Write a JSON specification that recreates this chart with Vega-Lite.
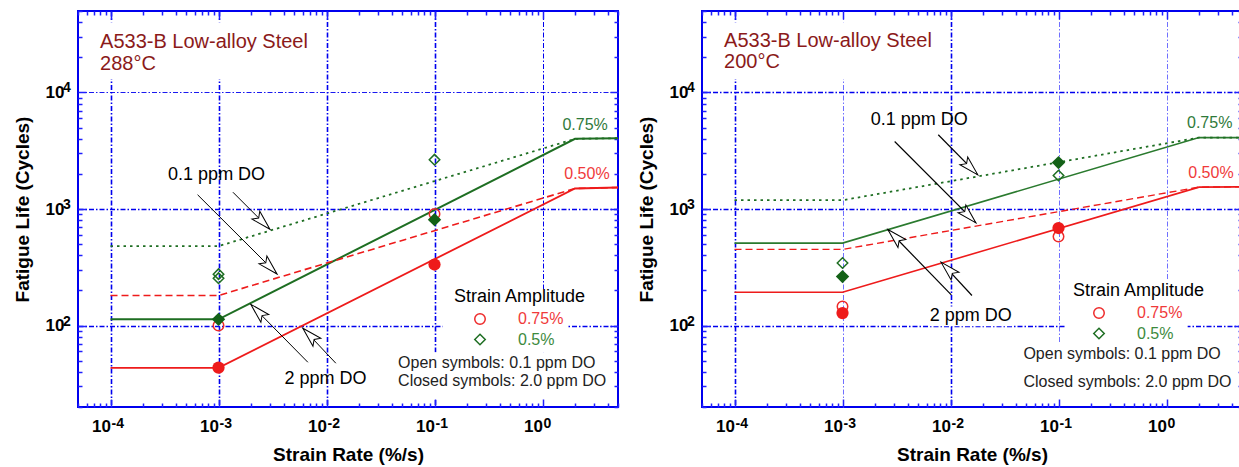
{
 "$schema": "https://vega.github.io/schema/vega-lite/v6.json",
 "background": "white",
 "padding": {"left": 12, "top": 1, "right": 0, "bottom": 0},
 "spacing": 13,
 "config": {"view": {"stroke": "#0000ee", "strokeWidth": 2}, "font": "Liberation Sans"},
 "datasets": {
  "lines": [
   {"panel":"288","series":"g2","x":0.0001,"y":113},{"panel":"288","series":"g2","x":0.001,"y":113},{"panel":"288","series":"g2","x":2,"y":4000},{"panel":"288","series":"g2","x":5,"y":4050},
   {"panel":"288","series":"g01","x":0.0001,"y":480},{"panel":"288","series":"g01","x":0.001,"y":480},{"panel":"288","series":"g01","x":2,"y":4000},{"panel":"288","series":"g01","x":5,"y":4050},
   {"panel":"288","series":"r2","x":0.0001,"y":43.3},{"panel":"288","series":"r2","x":0.001,"y":43.3},{"panel":"288","series":"r2","x":2,"y":1500},{"panel":"288","series":"r2","x":5,"y":1530},
   {"panel":"288","series":"r01","x":0.0001,"y":181},{"panel":"288","series":"r01","x":0.001,"y":181},{"panel":"288","series":"r01","x":2,"y":1500},{"panel":"288","series":"r01","x":5,"y":1530},
   {"panel":"200","series":"g2","x":0.0001,"y":510},{"panel":"200","series":"g2","x":0.001,"y":510},{"panel":"200","series":"g2","x":2,"y":4100},{"panel":"200","series":"g2","x":5,"y":4100},
   {"panel":"200","series":"g01","x":0.0001,"y":1190},{"panel":"200","series":"g01","x":0.001,"y":1190},{"panel":"200","series":"g01","x":2,"y":4100},{"panel":"200","series":"g01","x":5,"y":4100},
   {"panel":"200","series":"r2","x":0.0001,"y":193},{"panel":"200","series":"r2","x":0.001,"y":193},{"panel":"200","series":"r2","x":2,"y":1540},{"panel":"200","series":"r2","x":5,"y":1550},
   {"panel":"200","series":"r01","x":0.0001,"y":450},{"panel":"200","series":"r01","x":0.001,"y":450},{"panel":"200","series":"r01","x":2,"y":1540},{"panel":"200","series":"r01","x":5,"y":1550}
  ],
  "pts": [
   {"panel":"288","x":0.001,"y":276,"amp":"0.5%","oxygen":"0.1"},
   {"panel":"288","x":0.001,"y":255,"amp":"0.5%","oxygen":"0.1"},
   {"panel":"288","x":0.001,"y":113,"amp":"0.5%","oxygen":"2.0"},
   {"panel":"288","x":0.001,"y":100,"amp":"0.75%","oxygen":"0.1"},
   {"panel":"288","x":0.001,"y":43.5,"amp":"0.75%","oxygen":"2.0"},
   {"panel":"288","x":0.1,"y":2650,"amp":"0.5%","oxygen":"0.1"},
   {"panel":"288","x":0.1,"y":810,"amp":"0.5%","oxygen":"2.0"},
   {"panel":"288","x":0.1,"y":905,"amp":"0.75%","oxygen":"0.1"},
   {"panel":"288","x":0.1,"y":334,"amp":"0.75%","oxygen":"2.0"},
   {"panel":"200","x":0.001,"y":344,"amp":"0.5%","oxygen":"0.1"},
   {"panel":"200","x":0.001,"y":263,"amp":"0.5%","oxygen":"2.0"},
   {"panel":"200","x":0.001,"y":146,"amp":"0.75%","oxygen":"0.1"},
   {"panel":"200","x":0.001,"y":128,"amp":"0.75%","oxygen":"2.0"},
   {"panel":"200","x":0.1,"y":2500,"amp":"0.5%","oxygen":"2.0"},
   {"panel":"200","x":0.1,"y":1936,"amp":"0.5%","oxygen":"0.1"},
   {"panel":"200","x":0.1,"y":687,"amp":"0.75%","oxygen":"2.0"},
   {"panel":"200","x":0.1,"y":580,"amp":"0.75%","oxygen":"0.1"}
  ],
  "arrows": [
   {"panel":"288","group":"low","x":0.00064,"y":1325,"x2":0.00348,"y2":277},
   {"panel":"288","group":"low","x":0.00136,"y":1393,"x2":0.00299,"y2":671},
   {"panel":"288","group":"high","x":0.00672,"y":48.4,"x2":0.00199,"y2":152},
   {"panel":"288","group":"high","x":0.0122,"y":47.5,"x2":0.00604,"y2":94.8},
   {"panel":"200","group":"low","x":0.00304,"y":3794,"x2":0.0172,"y2":760},
   {"panel":"200","group":"low","x":0.0077,"y":4335,"x2":0.0179,"y2":1963},
   {"panel":"200","group":"high","x":0.01017,"y":183,"x2":0.00263,"y2":667},
   {"panel":"200","group":"high","x":0.0158,"y":181,"x2":0.00817,"y2":350}
  ],
  "boxes": [
   {"panel":"288","x":0.000058,"x2":0.0081,"y":40000,"y2":13000},
   {"panel":"288","x":0.119,"x2":1.71,"y":205,"y2":59},
   {"panel":"288","x":0.0438,"x2":3.7,"y":59,"y2":23.8},
   {"panel":"200","x":0.000058,"x2":0.0081,"y":40000,"y2":13000},
   {"panel":"200","x":0.0062,"x2":0.037,"y":146,"y2":98.6},
   {"panel":"200","x":0.115,"x2":1.57,"y":250,"y2":72},
   {"panel":"200","x":0.048,"x2":4.0,"y":72,"y2":23.8}
  ],
  "expo": [
   {"kind":"xexp","x":0.0001,"y":20,"text":"-4"},{"kind":"xexp","x":0.001,"y":20,"text":"-3"},{"kind":"xexp","x":0.01,"y":20,"text":"-2"},{"kind":"xexp","x":0.1,"y":20,"text":"-1"},{"kind":"xexp","x":1,"y":20,"text":"0"},
   {"kind":"yexp","x":0.00005,"y":100,"text":"2"},{"kind":"yexp","x":0.00005,"y":1000,"text":"3"},{"kind":"yexp","x":0.00005,"y":10000,"text":"4"}
  ],
  "notes": [
   {"panel":"288","kind":"title","text":"A533-B Low-alloy Steel","x":0.00008,"y":27000},
   {"panel":"288","kind":"title","text":"288°C","x":0.00008,"y":17400},
   {"panel":"288","kind":"do","text":"0.1 ppm DO","x":0.00096,"y":1940},
   {"panel":"288","kind":"do","text":"2 ppm DO","x":0.0098,"y":34.8},
   {"panel":"288","kind":"g","text":"0.75%","x":2.48,"y":5280},
   {"panel":"288","kind":"r","text":"0.50%","x":2.58,"y":1980},
   {"panel":"288","kind":"note","text":"Open symbols: 0.1 ppm DO","x":0.046,"y":47.8},
   {"panel":"288","kind":"note","text":"Closed symbols: 2.0 ppm DO","x":0.046,"y":33.3},
   {"panel":"200","kind":"title","text":"A533-B Low-alloy Steel","x":0.00008,"y":27900},
   {"panel":"200","kind":"title","text":"200°C","x":0.00008,"y":18200},
   {"panel":"200","kind":"do","text":"0.1 ppm DO","x":0.00513,"y":5860},
   {"panel":"200","kind":"do","text":"2 ppm DO","x":0.0154,"y":120},
   {"panel":"200","kind":"g","text":"0.75%","x":2.51,"y":5460},
   {"panel":"200","kind":"r","text":"0.50%","x":2.58,"y":2043},
   {"panel":"200","kind":"note","text":"Open symbols: 0.1 ppm DO","x":0.0473,"y":57.2},
   {"panel":"200","kind":"note","text":"Closed symbols: 2.0 ppm DO","x":0.0473,"y":33}
  ]
 },
 "resolve": {"scale": {"color": "independent", "shape": "independent"}, "legend": {"color": "independent", "shape": "independent"}},
 "hconcat": [
  {
   "width": 540, "height": 396,
   "encoding": {
    "x": {"field": "x", "type": "quantitative", "scale": {"type": "log", "domain": [0.00005, 5], "nice": false}, "axis": null},
    "y": {"field": "y", "type": "quantitative", "scale": {"type": "log", "domain": [20, 50000], "nice": false}, "axis": null}
   },
   "resolve": {"axis": {"x": "independent", "y": "independent"}},
   "layer": [
    {"data": {"name": "boxes"}, "transform": [{"filter": "datum.panel === '288'"}],
     "mark": {"type": "rect", "color": "white", "opacity": 1, "strokeWidth": 0},
     "encoding": {
      "x": {"field": "x", "type": "quantitative", "scale": {"type": "log", "domain": [0.00005, 5], "nice": false},
       "axis": {"orient": "bottom", "values": [0.00005,0.00006,0.00007,0.00008,0.00009,0.0001,0.0002,0.0003,0.0004,0.0005,0.0006,0.0007,0.0008,0.0009,0.001,0.002,0.003,0.004,0.005,0.006,0.007,0.008,0.009,0.01,0.02,0.03,0.04,0.05,0.06,0.07,0.08,0.09,0.1,0.2,0.3,0.4,0.5,0.6,0.7,0.8,0.9,1,2,3,4,5],
        "labelExpr": "indexof([0.0001,0.001,0.01,0.1,1], datum.value) >= 0 ? '10' : ''",
        "labelOverlap": false, "labelFlush": false, "labelBound": false, "labelAlign": "right",
        "labelFont": "Liberation Sans", "labelFontWeight": "bold", "labelFontSize": 17, "labelColor": "black", "labelPadding": 19,
        "tickSize": {"condition": {"test": "indexof([0.0001,0.001,0.01,0.1,1], datum.value) >= 0", "value": -8}, "value": -4},
        "tickColor": "#2020ff", "tickWidth": 1.5, "domain": false,
        "grid": true, "gridColor": "#0000ee", "gridDash": [5, 2, 1.5, 2],
        "gridWidth": {"condition": {"test": "datum.value === 1", "value": 1}, "value": 1.6},
        "gridOpacity": {"condition": {"test": "indexof([0.0001,0.001,0.01,0.1,1], datum.value) >= 0", "value": 1}, "value": 0},
        "title": "Strain Rate (%/s)", "titleFont": "Liberation Sans", "titleFontSize": 19, "titleFontWeight": "bold", "titleColor": "black", "titlePadding": 7}},
      "y": {"field": "y", "type": "quantitative", "scale": {"type": "log", "domain": [20, 50000], "nice": false},
       "axis": {"orient": "left", "values": [20,30,40,50,60,70,80,90,100,200,300,400,500,600,700,800,900,1000,2000,3000,4000,5000,6000,7000,8000,9000,10000,20000,30000,40000,50000],
        "labelExpr": "indexof([100,1000,10000], datum.value) >= 0 ? '10' : ''",
        "labelOverlap": false, "labelFlush": false, "labelBound": false,
        "labelFont": "Liberation Sans", "labelFontWeight": "bold", "labelFontSize": 17, "labelColor": "black", "labelPadding": 22,
        "tickSize": {"condition": {"test": "indexof([100,1000,10000], datum.value) >= 0", "value": -8}, "value": -4},
        "tickColor": "#2020ff", "tickWidth": 1.5, "domain": false,
        "grid": true, "gridColor": "#0000ee", "gridDash": [5, 2, 1.5, 2],
        "gridWidth": {"condition": {"test": "datum.value === 10000", "value": 0.9}, "value": 1.6},
        "gridOpacity": {"condition": {"test": "indexof([100,1000,10000], datum.value) >= 0", "value": 1}, "value": 0},
        "title": "Fatigue Life (Cycles)", "titleFont": "Liberation Sans", "titleFontSize": 19, "titleFontWeight": "bold", "titleColor": "black", "titlePadding": 13}},
      "x2": {"field": "x2"}, "y2": {"field": "y2"}
     }},
    {"data": {"name": "lines"}, "transform": [{"filter": "datum.panel === '288' && datum.series === 'g2'"}],
     "mark": {"type": "line", "color": "#1e6e22", "strokeWidth": 2}},
    {"data": {"name": "lines"}, "transform": [{"filter": "datum.panel === '288' && datum.series === 'g01'"}],
     "mark": {"type": "line", "color": "#1e6e22", "strokeWidth": 1.8, "strokeDash": [2.5, 4]}},
    {"data": {"name": "lines"}, "transform": [{"filter": "datum.panel === '288' && datum.series === 'r2'"}],
     "mark": {"type": "line", "color": "#ee1b1b", "strokeWidth": 1.8}},
    {"data": {"name": "lines"}, "transform": [{"filter": "datum.panel === '288' && datum.series === 'r01'"}],
     "mark": {"type": "line", "color": "#ee1b1b", "strokeWidth": 1.6, "strokeDash": [7, 4]}},
    {"data": {"name": "arrows"}, "transform": [{"filter": "datum.panel === '288'"}],
     "mark": {"type": "rule", "color": "black", "strokeWidth": 1},
     "encoding": {
      "x": {"field": "x", "type": "quantitative", "scale": {"type": "log", "domain": [0.00005, 5], "nice": false},
       "axis": {"orient": "top", "values": [0.00005,0.00006,0.00007,0.00008,0.00009,0.0001,0.0002,0.0003,0.0004,0.0005,0.0006,0.0007,0.0008,0.0009,0.001,0.002,0.003,0.004,0.005,0.006,0.007,0.008,0.009,0.01,0.02,0.03,0.04,0.05,0.06,0.07,0.08,0.09,0.1,0.2,0.3,0.4,0.5,0.6,0.7,0.8,0.9,1,2,3,4,5],
        "labels": false, "title": null, "grid": false, "domain": false,
        "tickSize": {"condition": {"test": "indexof([0.0001,0.001,0.01,0.1,1], datum.value) >= 0", "value": -8}, "value": -4},
        "tickColor": "#2020ff", "tickWidth": 1.5}},
      "y": {"field": "y", "type": "quantitative", "scale": {"type": "log", "domain": [20, 50000], "nice": false},
       "axis": {"orient": "right", "values": [20,30,40,50,60,70,80,90,100,200,300,400,500,600,700,800,900,1000,2000,3000,4000,5000,6000,7000,8000,9000,10000,20000,30000,40000,50000],
        "labels": false, "title": null, "grid": false, "domain": false,
        "tickSize": {"condition": {"test": "indexof([100,1000,10000], datum.value) >= 0", "value": -8}, "value": -4},
        "tickColor": "#2020ff", "tickWidth": 1.5}},
      "x2": {"field": "x2"}, "y2": {"field": "y2"}
     }},
    {"data": {"name": "arrows"}, "transform": [{"filter": "datum.panel === '288' && datum.group === 'low'"}],
     "mark": {"type": "point", "shape": "M0,0 L0.42,1.5 L0,1.2 L-0.42,1.5 Z", "angle": 135, "size": 700, "filled": true, "fill": "white", "stroke": "black", "strokeWidth": 1, "opacity": 1},
     "encoding": {
      "x": {"field": "x2", "type": "quantitative", "scale": {"type": "log", "domain": [0.00005, 5], "nice": false}, "axis": null},
      "y": {"field": "y2", "type": "quantitative", "scale": {"type": "log", "domain": [20, 50000], "nice": false}, "axis": null}}},
    {"data": {"name": "arrows"}, "transform": [{"filter": "datum.panel === '288' && datum.group === 'high'"}],
     "mark": {"type": "point", "shape": "M0,0 L0.42,1.5 L0,1.2 L-0.42,1.5 Z", "angle": 315, "size": 700, "filled": true, "fill": "white", "stroke": "black", "strokeWidth": 1, "opacity": 1},
     "encoding": {
      "x": {"field": "x2", "type": "quantitative", "scale": {"type": "log", "domain": [0.00005, 5], "nice": false}, "axis": null},
      "y": {"field": "y2", "type": "quantitative", "scale": {"type": "log", "domain": [20, 50000], "nice": false}, "axis": null}}},
    {"data": {"name": "pts"}, "transform": [{"filter": "datum.panel === '288' && datum.oxygen === '0.1'"}],
     "mark": {"type": "point", "filled": false, "size": 110, "strokeWidth": 1.5, "opacity": 1},
     "encoding": {
      "color": {"field": "amp", "type": "nominal", "scale": {"domain": ["0.75%", "0.5%"], "range": ["#ee2a2a", "#1e6e22"]},
       "legend": {"orient": "none", "legendX": 376, "legendY": 277, "title": "Strain Amplitude", "titleFont": "Liberation Sans", "titleFontSize": 18, "titleFontWeight": "normal", "titleColor": "black", "titlePadding": 5, "labelFont": "Liberation Sans", "labelFontSize": 16, "symbolSize": 110, "symbolStrokeWidth": 1.5, "symbolOffset": 18, "labelOffset": 30, "rowPadding": 2.5, "padding": 0,
        "labelColor": {"expr": "datum.label === '0.75%' ? '#f03a3a' : '#3d8a3d'"}}},
      "shape": {"field": "amp", "type": "nominal", "scale": {"domain": ["0.75%", "0.5%"], "range": ["circle", "diamond"]},
       "legend": {"orient": "none", "legendX": 376, "legendY": 277, "title": "Strain Amplitude", "titleFont": "Liberation Sans", "titleFontSize": 18, "titleFontWeight": "normal", "titleColor": "black", "titlePadding": 5, "labelFont": "Liberation Sans", "labelFontSize": 16, "symbolSize": 110, "symbolStrokeWidth": 1.5, "symbolOffset": 18, "labelOffset": 30, "rowPadding": 2.5, "padding": 0,
        "labelColor": {"expr": "datum.label === '0.75%' ? '#f03a3a' : '#3d8a3d'"}}}
     }},
    {"data": {"name": "pts"}, "transform": [{"filter": "datum.panel === '288' && datum.oxygen === '2.0' && datum.amp === '0.75%'"}],
     "mark": {"type": "point", "shape": "circle", "filled": true, "color": "#ee1b1b", "size": 150, "opacity": 1}},
    {"data": {"name": "pts"}, "transform": [{"filter": "datum.panel === '288' && datum.oxygen === '2.0' && datum.amp === '0.5%'"}],
     "mark": {"type": "point", "shape": "diamond", "filled": true, "color": "#136117", "size": 180, "opacity": 1}},
    {"data": {"name": "expo"}, "transform": [{"filter": "datum.kind === 'xexp'"}],
     "mark": {"type": "text", "clip": false, "align": "left", "baseline": "middle", "dx": 1, "dy": 17, "font": "Liberation Sans", "fontWeight": "bold", "fontSize": 14, "color": "black"},
     "encoding": {"text": {"field": "text"}}},
    {"data": {"name": "expo"}, "transform": [{"filter": "datum.kind === 'yexp'"}],
     "mark": {"type": "text", "clip": false, "align": "left", "baseline": "middle", "dx": -15, "dy": -4, "font": "Liberation Sans", "fontWeight": "bold", "fontSize": 14, "color": "black"},
     "encoding": {"text": {"field": "text"}}},
    {"data": {"name": "notes"}, "transform": [{"filter": "datum.panel === '288' && datum.kind === 'title'"}],
     "mark": {"type": "text", "align": "left", "baseline": "middle", "font": "Liberation Sans", "fontSize": 20, "color": "#8b1a1a"},
     "encoding": {"text": {"field": "text"}}},
    {"data": {"name": "notes"}, "transform": [{"filter": "datum.panel === '288' && datum.kind === 'do'"}],
     "mark": {"type": "text", "align": "center", "baseline": "middle", "font": "Liberation Sans", "fontSize": 18, "color": "black"},
     "encoding": {"text": {"field": "text"}}},
    {"data": {"name": "notes"}, "transform": [{"filter": "datum.panel === '288' && datum.kind === 'g'"}],
     "mark": {"type": "text", "align": "center", "baseline": "middle", "font": "Liberation Sans", "fontSize": 16, "color": "#2f7a3a"},
     "encoding": {"text": {"field": "text"}}},
    {"data": {"name": "notes"}, "transform": [{"filter": "datum.panel === '288' && datum.kind === 'r'"}],
     "mark": {"type": "text", "align": "center", "baseline": "middle", "font": "Liberation Sans", "fontSize": 16, "color": "#f03a3a"},
     "encoding": {"text": {"field": "text"}}},
    {"data": {"name": "notes"}, "transform": [{"filter": "datum.panel === '288' && datum.kind === 'note'"}],
     "mark": {"type": "text", "align": "left", "baseline": "middle", "font": "Liberation Sans", "fontSize": 16, "color": "#222222"},
     "encoding": {"text": {"field": "text"}}}
   ]
  },
  {
   "width": 540, "height": 396,
   "encoding": {
    "x": {"field": "x", "type": "quantitative", "scale": {"type": "log", "domain": [0.00005, 5], "nice": false}, "axis": null},
    "y": {"field": "y", "type": "quantitative", "scale": {"type": "log", "domain": [20, 50000], "nice": false}, "axis": null}
   },
   "resolve": {"axis": {"x": "independent", "y": "independent"}},
   "layer": [
    {"data": {"name": "boxes"}, "transform": [{"filter": "datum.panel === '200'"}],
     "mark": {"type": "rect", "color": "white", "opacity": 1, "strokeWidth": 0},
     "encoding": {
      "x": {"field": "x", "type": "quantitative", "scale": {"type": "log", "domain": [0.00005, 5], "nice": false},
       "axis": {"orient": "bottom", "values": [0.00005,0.00006,0.00007,0.00008,0.00009,0.0001,0.0002,0.0003,0.0004,0.0005,0.0006,0.0007,0.0008,0.0009,0.001,0.002,0.003,0.004,0.005,0.006,0.007,0.008,0.009,0.01,0.02,0.03,0.04,0.05,0.06,0.07,0.08,0.09,0.1,0.2,0.3,0.4,0.5,0.6,0.7,0.8,0.9,1,2,3,4,5],
        "labelExpr": "indexof([0.0001,0.001,0.01,0.1,1], datum.value) >= 0 ? '10' : ''",
        "labelOverlap": false, "labelFlush": false, "labelBound": false, "labelAlign": "right",
        "labelFont": "Liberation Sans", "labelFontWeight": "bold", "labelFontSize": 17, "labelColor": "black", "labelPadding": 19,
        "tickSize": {"condition": {"test": "indexof([0.0001,0.001,0.01,0.1,1], datum.value) >= 0", "value": -8}, "value": -4},
        "tickColor": "#2020ff", "tickWidth": 1.5, "domain": false,
        "grid": true, "gridDash": [5, 2, 1.5, 2],
        "gridColor": {"condition": {"test": "datum.value === 0.0001 || datum.value === 0.01", "value": "#0000ee"}, "value": "#7070ff"},
        "gridWidth": {"condition": {"test": "datum.value === 0.0001 || datum.value === 0.01", "value": 1.6}, "value": 1},
        "gridOpacity": {"condition": {"test": "indexof([0.0001,0.001,0.01,0.1,1], datum.value) >= 0", "value": 1}, "value": 0},
        "title": "Strain Rate (%/s)", "titleFont": "Liberation Sans", "titleFontSize": 19, "titleFontWeight": "bold", "titleColor": "black", "titlePadding": 7}},
      "y": {"field": "y", "type": "quantitative", "scale": {"type": "log", "domain": [20, 50000], "nice": false},
       "axis": {"orient": "left", "values": [20,30,40,50,60,70,80,90,100,200,300,400,500,600,700,800,900,1000,2000,3000,4000,5000,6000,7000,8000,9000,10000,20000,30000,40000,50000],
        "labelExpr": "indexof([100,1000,10000], datum.value) >= 0 ? '10' : ''",
        "labelOverlap": false, "labelFlush": false, "labelBound": false,
        "labelFont": "Liberation Sans", "labelFontWeight": "bold", "labelFontSize": 17, "labelColor": "black", "labelPadding": 22,
        "tickSize": {"condition": {"test": "indexof([100,1000,10000], datum.value) >= 0", "value": -8}, "value": -4},
        "tickColor": "#2020ff", "tickWidth": 1.5, "domain": false,
        "grid": true, "gridColor": "#0000ee", "gridWidth": 1.6, "gridDash": [5, 2, 1.5, 2],
        "gridOpacity": {"condition": {"test": "indexof([100,1000,10000], datum.value) >= 0", "value": 1}, "value": 0},
        "title": "Fatigue Life (Cycles)", "titleFont": "Liberation Sans", "titleFontSize": 19, "titleFontWeight": "bold", "titleColor": "black", "titlePadding": 13}},
      "x2": {"field": "x2"}, "y2": {"field": "y2"}
     }},
    {"data": {"name": "lines"}, "transform": [{"filter": "datum.panel === '200' && datum.series === 'g2'"}],
     "mark": {"type": "line", "color": "#2a7a2e", "strokeWidth": 1.6}},
    {"data": {"name": "lines"}, "transform": [{"filter": "datum.panel === '200' && datum.series === 'g01'"}],
     "mark": {"type": "line", "color": "#1e6e22", "strokeWidth": 1.8, "strokeDash": [2.5, 4]}},
    {"data": {"name": "lines"}, "transform": [{"filter": "datum.panel === '200' && datum.series === 'r2'"}],
     "mark": {"type": "line", "color": "#ee1b1b", "strokeWidth": 1.6}},
    {"data": {"name": "lines"}, "transform": [{"filter": "datum.panel === '200' && datum.series === 'r01'"}],
     "mark": {"type": "line", "color": "#ee1b1b", "strokeWidth": 1.4, "strokeDash": [7, 4]}},
    {"data": {"name": "arrows"}, "transform": [{"filter": "datum.panel === '200'"}],
     "mark": {"type": "rule", "color": "black", "strokeWidth": 1.2},
     "encoding": {
      "x": {"field": "x", "type": "quantitative", "scale": {"type": "log", "domain": [0.00005, 5], "nice": false},
       "axis": {"orient": "top", "values": [0.00005,0.00006,0.00007,0.00008,0.00009,0.0001,0.0002,0.0003,0.0004,0.0005,0.0006,0.0007,0.0008,0.0009,0.001,0.002,0.003,0.004,0.005,0.006,0.007,0.008,0.009,0.01,0.02,0.03,0.04,0.05,0.06,0.07,0.08,0.09,0.1,0.2,0.3,0.4,0.5,0.6,0.7,0.8,0.9,1,2,3,4,5],
        "labels": false, "title": null, "grid": false, "domain": false,
        "tickSize": {"condition": {"test": "indexof([0.0001,0.001,0.01,0.1,1], datum.value) >= 0", "value": -8}, "value": -4},
        "tickColor": "#2020ff", "tickWidth": 1.5}},
      "y": {"field": "y", "type": "quantitative", "scale": {"type": "log", "domain": [20, 50000], "nice": false},
       "axis": {"orient": "right", "values": [20,30,40,50,60,70,80,90,100,200,300,400,500,600,700,800,900,1000,2000,3000,4000,5000,6000,7000,8000,9000,10000,20000,30000,40000,50000],
        "labels": false, "title": null, "grid": false, "domain": false,
        "tickSize": {"condition": {"test": "indexof([100,1000,10000], datum.value) >= 0", "value": -8}, "value": -4},
        "tickColor": "#2020ff", "tickWidth": 1.5}},
      "x2": {"field": "x2"}, "y2": {"field": "y2"}
     }},
    {"data": {"name": "arrows"}, "transform": [{"filter": "datum.panel === '200' && datum.group === 'low'"}],
     "mark": {"type": "point", "shape": "M0,0 L0.42,1.5 L0,1.2 L-0.42,1.5 Z", "angle": 135, "size": 700, "filled": true, "fill": "white", "stroke": "black", "strokeWidth": 1, "opacity": 1},
     "encoding": {
      "x": {"field": "x2", "type": "quantitative", "scale": {"type": "log", "domain": [0.00005, 5], "nice": false}, "axis": null},
      "y": {"field": "y2", "type": "quantitative", "scale": {"type": "log", "domain": [20, 50000], "nice": false}, "axis": null}}},
    {"data": {"name": "arrows"}, "transform": [{"filter": "datum.panel === '200' && datum.group === 'high'"}],
     "mark": {"type": "point", "shape": "M0,0 L0.42,1.5 L0,1.2 L-0.42,1.5 Z", "angle": 315, "size": 700, "filled": true, "fill": "white", "stroke": "black", "strokeWidth": 1, "opacity": 1},
     "encoding": {
      "x": {"field": "x2", "type": "quantitative", "scale": {"type": "log", "domain": [0.00005, 5], "nice": false}, "axis": null},
      "y": {"field": "y2", "type": "quantitative", "scale": {"type": "log", "domain": [20, 50000], "nice": false}, "axis": null}}},
    {"data": {"name": "pts"}, "transform": [{"filter": "datum.panel === '200' && datum.oxygen === '0.1'"}],
     "mark": {"type": "point", "filled": false, "size": 110, "strokeWidth": 1.5, "opacity": 1},
     "encoding": {
      "color": {"field": "amp", "type": "nominal", "scale": {"domain": ["0.75%", "0.5%"], "range": ["#ee2a2a", "#1e6e22"]},
       "legend": {"orient": "none", "legendX": 371, "legendY": 271, "title": "Strain Amplitude", "titleFont": "Liberation Sans", "titleFontSize": 18, "titleFontWeight": "normal", "titleColor": "black", "titlePadding": 5, "labelFont": "Liberation Sans", "labelFontSize": 16, "symbolSize": 110, "symbolStrokeWidth": 1.5, "symbolOffset": 18, "labelOffset": 30, "rowPadding": 2.5, "padding": 0,
        "labelColor": {"expr": "datum.label === '0.75%' ? '#f03a3a' : '#3d8a3d'"}}},
      "shape": {"field": "amp", "type": "nominal", "scale": {"domain": ["0.75%", "0.5%"], "range": ["circle", "diamond"]},
       "legend": {"orient": "none", "legendX": 371, "legendY": 271, "title": "Strain Amplitude", "titleFont": "Liberation Sans", "titleFontSize": 18, "titleFontWeight": "normal", "titleColor": "black", "titlePadding": 5, "labelFont": "Liberation Sans", "labelFontSize": 16, "symbolSize": 110, "symbolStrokeWidth": 1.5, "symbolOffset": 18, "labelOffset": 30, "rowPadding": 2.5, "padding": 0,
        "labelColor": {"expr": "datum.label === '0.75%' ? '#f03a3a' : '#3d8a3d'"}}}
     }},
    {"data": {"name": "pts"}, "transform": [{"filter": "datum.panel === '200' && datum.oxygen === '2.0' && datum.amp === '0.75%'"}],
     "mark": {"type": "point", "shape": "circle", "filled": true, "color": "#ee1b1b", "size": 150, "opacity": 1}},
    {"data": {"name": "pts"}, "transform": [{"filter": "datum.panel === '200' && datum.oxygen === '2.0' && datum.amp === '0.5%'"}],
     "mark": {"type": "point", "shape": "diamond", "filled": true, "color": "#136117", "size": 180, "opacity": 1}},
    {"data": {"name": "expo"}, "transform": [{"filter": "datum.kind === 'xexp'"}],
     "mark": {"type": "text", "clip": false, "align": "left", "baseline": "middle", "dx": 1, "dy": 17, "font": "Liberation Sans", "fontWeight": "bold", "fontSize": 14, "color": "black"},
     "encoding": {"text": {"field": "text"}}},
    {"data": {"name": "expo"}, "transform": [{"filter": "datum.kind === 'yexp'"}],
     "mark": {"type": "text", "clip": false, "align": "left", "baseline": "middle", "dx": -15, "dy": -4, "font": "Liberation Sans", "fontWeight": "bold", "fontSize": 14, "color": "black"},
     "encoding": {"text": {"field": "text"}}},
    {"data": {"name": "notes"}, "transform": [{"filter": "datum.panel === '200' && datum.kind === 'title'"}],
     "mark": {"type": "text", "align": "left", "baseline": "middle", "font": "Liberation Sans", "fontSize": 20, "color": "#8b1a1a"},
     "encoding": {"text": {"field": "text"}}},
    {"data": {"name": "notes"}, "transform": [{"filter": "datum.panel === '200' && datum.kind === 'do'"}],
     "mark": {"type": "text", "align": "center", "baseline": "middle", "font": "Liberation Sans", "fontSize": 18, "color": "black"},
     "encoding": {"text": {"field": "text"}}},
    {"data": {"name": "notes"}, "transform": [{"filter": "datum.panel === '200' && datum.kind === 'g'"}],
     "mark": {"type": "text", "align": "center", "baseline": "middle", "font": "Liberation Sans", "fontSize": 16, "color": "#2f7a3a"},
     "encoding": {"text": {"field": "text"}}},
    {"data": {"name": "notes"}, "transform": [{"filter": "datum.panel === '200' && datum.kind === 'r'"}],
     "mark": {"type": "text", "align": "center", "baseline": "middle", "font": "Liberation Sans", "fontSize": 16, "color": "#f03a3a"},
     "encoding": {"text": {"field": "text"}}},
    {"data": {"name": "notes"}, "transform": [{"filter": "datum.panel === '200' && datum.kind === 'note'"}],
     "mark": {"type": "text", "align": "left", "baseline": "middle", "font": "Liberation Sans", "fontSize": 16, "color": "#222222"},
     "encoding": {"text": {"field": "text"}}}
   ]
  }
 ]
}
